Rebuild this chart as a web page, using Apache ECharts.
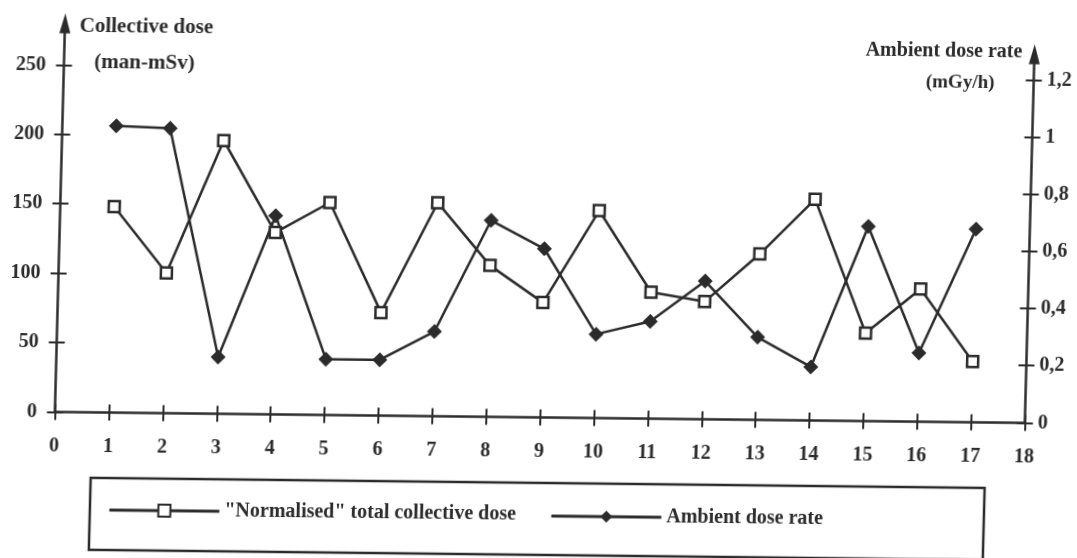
<!DOCTYPE html>
<html><head><meta charset="utf-8">
<script src="https://cdn.jsdelivr.net/npm/echarts@6/dist/echarts.min.js"></script>
<style>
html,body{margin:0;padding:0;background:#fff;overflow:hidden;width:1077px;height:558px}
#c{width:1077px;height:558px;transform-origin:0 0;transform:matrix(1,0.0113,-0.026,1,7.25,-6.08)}
</style>
</head><body><div id="c"></div>
<script>
// ---- data ----
const xTicks = [0,1,2,3,4,5,6,7,8,9,10,11,12,13,14,15,16,17,18];
const runs = [1,2,3,4,5,6,7,8,9,10,11,12,13,14,15,16,17];
const collectiveDose = [148.3,101.0,196.8,131.0,153.0,74.2,153.8,109.0,82.7,149.4,91.1,84.7,119.5,159.4,63.3,95.6,43.7];
const ambientDoseRate = [1.003,0.997,0.198,0.695,0.195,0.195,0.296,0.687,0.590,0.293,0.340,0.483,0.289,0.187,0.681,0.240,0.676];
const leftTicks = [0,50,100,150,200,250];
const rightTicks = [0,0.2,0.4,0.6,0.8,1,1.2];
const seriesNames = ['"Normalised" total collective dose', 'Ambient dose rate'];
const leftTitle = ['Collective dose', '(man-mSv)'];
const rightTitle = ['Ambient dose rate', '(mGy/h)'];

// ---- styling ----
const ink = '#2b2b2b';
const fam = 'Liberation Serif';
const lbl = {color: ink, fontFamily: fam, fontWeight: 'bold', fontSize: 20};
const axisLineStyle = {color: ink, width: 2.5};
const tickStyle = {color: ink, width: 2};
const gL = 58.6, gR = 48.4, gB = 140.6;

const chart = echarts.init(document.getElementById('c'), null, {renderer: 'canvas'});
const fmtRight = v => {
  let s = (Math.round(v * 10) / 10).toFixed(1).replace('.', ',');
  if (s.endsWith(',0')) s = s.slice(0, -2);
  return s;
};
function txt(t, x, y, size) {
  return {type: 'text', x: x, y: y, silent: true,
    style: {text: t, fill: ink, font: 'bold ' + (size || 20) + 'px "Liberation Serif"', align: 'center', verticalAlign: 'middle', textAlign: 'center', textVerticalAlign: 'middle'}};
}
const legendBase = {padding: 0, itemGap: 0, itemWidth: 110, itemHeight: 15, selectedMode: false,
  textStyle: Object.assign({}, lbl), lineStyle: {color: ink, width: 3}};
chart.setOption({
  animation: false,
  backgroundColor: '#fff',
  grid: [
    {left: gL, right: gR, top: 28.76, bottom: gB, outerBoundsMode: 'none', containLabel: false},
    {left: gL, right: gR, top: 48.72, bottom: gB, outerBoundsMode: 'none', containLabel: false}
  ],
  xAxis: [
    {gridIndex: 0, type: 'value', min: 0, max: 18, interval: 1, position: 'bottom',
      axisLine: {show: true, onZero: false, lineStyle: axisLineStyle},
      axisTick: {show: true, length: 8, customValues: xTicks, lineStyle: tickStyle},
      axisLabel: Object.assign({margin: 24, customValues: xTicks}, lbl),
      splitLine: {show: false}},
    {gridIndex: 0, type: 'value', min: 0, max: 18, interval: 1, position: 'bottom',
      axisLine: {show: false, onZero: false},
      axisTick: {show: true, inside: true, length: 8, customValues: xTicks, lineStyle: tickStyle},
      axisLabel: {show: false}, splitLine: {show: false}},
    {gridIndex: 1, type: 'value', min: 0, max: 18, show: false, splitLine: {show: false}}
  ],
  yAxis: [
    {gridIndex: 0, type: 'value', min: 0, max: 280, interval: 50, position: 'left',
      axisLine: {show: true, onZero: false, symbol: ['none', 'triangle'], symbolSize: [11, 20], lineStyle: axisLineStyle},
      axisTick: {show: true, length: 8, customValues: leftTicks, lineStyle: tickStyle},
      axisLabel: Object.assign({margin: 18, customValues: leftTicks}, lbl),
      splitLine: {show: false}},
    {gridIndex: 0, type: 'value', min: 0, max: 280, interval: 50, position: 'left',
      axisLine: {show: false, onZero: false},
      axisTick: {show: true, inside: true, length: 8, customValues: leftTicks, lineStyle: tickStyle},
      axisLabel: {show: false}, splitLine: {show: false}},
    {gridIndex: 1, type: 'value', min: 0, max: 1.29, interval: 0.2, position: 'right',
      axisLine: {show: true, onZero: false, symbol: ['none', 'triangle'], symbolSize: [11, 20], lineStyle: axisLineStyle},
      axisTick: {show: true, length: 8, customValues: rightTicks, lineStyle: tickStyle},
      axisLabel: Object.assign({margin: 13, customValues: rightTicks, formatter: fmtRight}, lbl),
      splitLine: {show: false}},
    {gridIndex: 1, type: 'value', min: 0, max: 1.29, interval: 0.2, position: 'right',
      axisLine: {show: false, onZero: false},
      axisTick: {show: true, inside: true, length: 8, customValues: rightTicks, lineStyle: tickStyle},
      axisLabel: {show: false}, splitLine: {show: false}}
  ],
  legend: [
    Object.assign({data: [seriesNames[0]], left: 114, top: 505}, legendBase),
    Object.assign({data: [seriesNames[1]], left: 556, top: 506}, legendBase)
  ],
  graphic: [
    {type: 'rect', silent: true, shape: {x: 96, y: 483, width: 894, height: 72},
      style: {fill: 'none', stroke: ink, lineWidth: 2.5}},
    txt(leftTitle[0], 140, 31.5, 21),
    txt(leftTitle[1], 139, 67.5, 21),
    txt(rightTitle[0], 938, 46.5, 20),
    txt(rightTitle[1], 955, 78.3, 19)
  ],
  series: [
    {type: 'line', name: seriesNames[0], xAxisIndex: 0, yAxisIndex: 0,
      data: runs.map((r, i) => [r, collectiveDose[i]]),
      symbol: 'rect', symbolSize: 11, showSymbol: true,
      lineStyle: {color: ink, width: 2.5},
      itemStyle: {color: '#fff', borderColor: ink, borderWidth: 2.5}, z: 3},
    {type: 'line', name: seriesNames[1], xAxisIndex: 2, yAxisIndex: 2,
      data: runs.map((r, i) => [r, ambientDoseRate[i]]),
      symbol: 'diamond', symbolSize: 15, showSymbol: true,
      lineStyle: {color: ink, width: 2.5},
      itemStyle: {color: ink}, z: 2}
  ]
});
</script>
</body></html>
